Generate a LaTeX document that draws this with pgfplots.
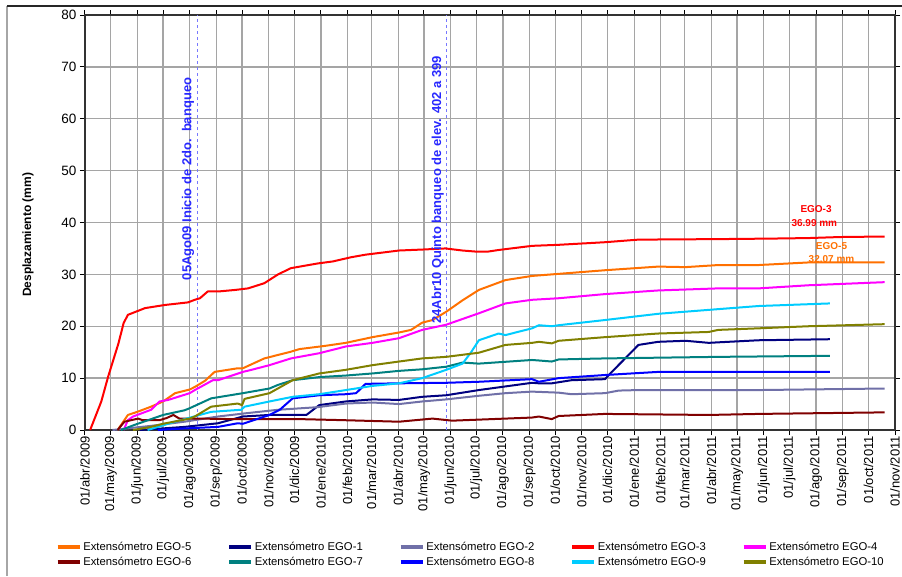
\documentclass[border=0pt]{standalone}
\usepackage{pgfplots}
\pgfplotsset{compat=1.18}
\usepackage{fontspec}
\setmainfont{Liberation Sans}

\definecolor{ego5}{RGB}{255,112,0}
\definecolor{ego1}{RGB}{0,0,128}
\definecolor{ego2}{RGB}{112,112,168}
\definecolor{ego3}{RGB}{255,0,0}
\definecolor{ego4}{RGB}{255,0,255}
\definecolor{ego6}{RGB}{128,0,0}
\definecolor{ego7}{RGB}{0,128,128}
\definecolor{ego8}{RGB}{0,0,255}
\definecolor{ego9}{RGB}{0,204,255}
\definecolor{ego10}{RGB}{128,128,0}
\definecolor{gridc}{RGB}{165,165,165}
\definecolor{notec}{RGB}{40,40,255}
\definecolor{linec}{RGB}{120,120,255}

\begin{document}
\begin{tikzpicture}
% page = 902 x 576, axis box lower-left at (0,0)
\useasboundingbox (-85pt,-146pt) rectangle (817pt,430pt);
\draw[gray!70, line width=1.5pt] (-78pt,-146pt) -- (-78pt,424pt);
\draw[black!85, line width=1.2pt] (-78pt,424pt) -- (817pt,424pt);
\begin{axis}[
    scale only axis,
    width=810pt, height=415pt,
    xmin=0, xmax=944, ymin=0, ymax=80,
    xtick={0,30,61,91,122,153,183,214,244,275,306,334,365,395,426,456,487,518,548,579,609,640,671,699,730,760,791,821,852,883,913,944},
    xticklabels={01/abr/2009,01/may/2009,01/jun/2009,01/jul/2009,01/ago/2009,01/sep/2009,01/oct/2009,01/nov/2009,01/dic/2009,01/ene/2010,01/feb/2010,01/mar/2010,01/abr/2010,01/may/2010,01/jun/2010,01/jul/2010,01/ago/2010,01/sep/2010,01/oct/2010,01/nov/2010,01/dic/2010,01/ene/2011,01/feb/2011,01/mar/2011,01/abr/2011,01/may/2011,01/jun/2011,01/jul/2011,01/ago/2011,01/sep/2011,01/oct/2011,01/nov/2011},
    ytick={0,10,...,80},
    x tick label style={rotate=90, anchor=east, font=\fontsize{13}{14}\selectfont, inner sep=1pt},
    y tick label style={font=\fontsize{13.5}{14}\selectfont, /pgf/number format/assume math mode=true},
    tick align=outside,
    major tick length=5pt,
    tick style={black, line width=1pt},
    xmajorgrids, ymajorgrids,
    grid style={gridc, line width=1.3pt},
    axis line style={black!80, line width=1.4pt},
    ylabel={\textbf{Desplazamiento (mm)}},
    ylabel style={font=\fontsize{12}{13}\selectfont, at={(axis description cs:-0.059,0.47)}},
    legend columns=5,
    legend style={draw=none, fill=none, at={(-0.04,-0.26)}, anchor=north west,
        font=\fontsize{11.3}{13}\selectfont, row sep=1pt,
        /tikz/every even column/.append style={column sep=34pt}},
    legend cell align=left,
    legend image code/.code={\draw[line width=3.5pt] (0pt,0pt) -- (22pt,0pt);},
    every axis plot/.append style={line width=2pt, line join=round},
    clip=false,
]
\draw[dashed, color=linec, line width=0.9pt] (axis cs:131,0) -- (axis cs:131,80);
\draw[dashed, color=linec, line width=0.9pt] (axis cs:421,0) -- (axis cs:421,80);

\addplot[ego5] coordinates {(38,0) (50,2.9) (61,3.5) (77,4.5) (91,5.5) (105,7.1) (122,7.8) (128,8.3) (140,9.5) (151,11.2) (178,11.9) (184,11.9) (209,13.8) (240,15.1) (250,15.6) (279,16.2) (304,16.8) (335,17.9) (366,18.8) (380,19.3) (393,20.7) (405,21.2) (421,22.8) (440,25) (459,27) (490,28.9) (521,29.7) (552,30.1) (606,30.8) (668,31.5) (700,31.4) (738,31.8) (785,31.8) (843,32.3) (932,32.3)};
\addlegendentry{Extensómetro EGO-5}
\addplot[ego1] coordinates {(64,0) (116,0.6) (155,1.3) (184,2.6) (215,2.9) (258,2.9) (273,4.8) (304,5.5) (335,5.9) (366,5.8) (393,6.4) (421,6.7) (459,7.7) (490,8.4) (521,9.1) (529,9) (544,9) (567,9.6) (606,9.8) (614,11.2) (645,16.4) (668,17) (700,17.2) (727,16.8) (738,16.9) (785,17.3) (868,17.5)};
\addlegendentry{Extensómetro EGO-1}
\addplot[ego2] coordinates {(32,0) (77,0.8) (116,1.6) (155,2.6) (186,3.2) (225,3.9) (271,4.4) (304,5.1) (335,5.3) (366,5) (393,5.5) (421,5.9) (459,6.6) (490,7.1) (521,7.4) (552,7.2) (567,6.9) (606,7.1) (622,7.6) (645,7.7) (785,7.7) (932,8)};
\addlegendentry{Extensómetro EGO-2}
\addplot[ego3] coordinates {(6,0) (19,5.5) (27,10.3) (39,16.7) (45,20.6) (50,22.2) (70,23.5) (93,24.1) (120,24.6) (128,25.1) (134,25.4) (143,26.7) (155,26.7) (175,27) (190,27.3) (209,28.3) (225,30) (240,31.2) (271,32.1) (289,32.5) (310,33.3) (327,33.8) (366,34.6) (395,34.8) (420,35) (440,34.6) (455,34.4) (470,34.4) (482,34.7) (521,35.5) (552,35.7) (606,36.2) (645,36.7) (738,36.8) (800,36.9) (843,37.0) (880,37.2) (932,37.3)};
\addlegendentry{Extensómetro EGO-3}
\addplot[ego4] coordinates {(45,0) (50,1.9) (56,2.6) (77,3.9) (87,5.5) (97,5.8) (122,7.1) (128,7.7) (149,9.6) (155,9.6) (184,11.2) (194,11.6) (215,12.5) (240,13.8) (273,14.8) (304,16.1) (335,16.8) (366,17.7) (393,19.3) (421,20.3) (459,22.5) (490,24.4) (521,25.1) (552,25.4) (606,26.2) (668,26.9) (738,27.3) (785,27.3) (843,27.9) (932,28.5)};
\addlegendentry{Extensómetro EGO-4}
\addplot[ego6] coordinates {(38,0) (46,1.6) (62,2.2) (67,1.9) (87,1.9) (95,2.3) (103,2.9) (110,2.2) (134,2.2) (172,2.1) (250,2.1) (300,1.9) (366,1.6) (405,2.2) (428,1.8) (521,2.4) (529,2.6) (544,2.1) (552,2.7) (606,3.1) (727,2.9) (785,3.1) (932,3.4)};
\addlegendentry{Extensómetro EGO-6}
\addplot[ego7] coordinates {(42,0) (58,1) (91,2.9) (116,3.8) (122,4.2) (147,6.1) (184,7.1) (215,8) (225,8.7) (242,9.6) (273,10.2) (304,10.5) (335,10.9) (366,11.4) (393,11.7) (421,12.2) (440,13) (459,12.8) (521,13.5) (529,13.4) (544,13.2) (552,13.6) (606,13.8) (738,14.1) (868,14.3)};
\addlegendentry{Extensómetro EGO-7}
\addplot[ego8] coordinates {(85,0) (116,0.3) (155,0.6) (178,1.3) (184,1.2) (215,2.9) (227,3.9) (242,6.1) (273,6.7) (304,6.9) (316,7.1) (327,8.9) (366,9) (421,9.1) (459,9.3) (521,9.8) (529,9.3) (552,10) (606,10.6) (668,11.2) (868,11.2)};
\addlegendentry{Extensómetro EGO-8}
\addplot[ego9] coordinates {(73,0) (105,1.6) (147,3.5) (182,3.9) (186,4.5) (215,5.5) (242,6.4) (273,6.9) (304,7.7) (335,8.5) (366,9) (393,10) (421,11.6) (440,12.8) (450,15) (459,17.3) (482,18.6) (490,18.3) (521,19.6) (529,20.2) (544,20) (552,20.2) (606,21.2) (668,22.4) (738,23.3) (785,23.9) (868,24.4)};
\addlegendentry{Extensómetro EGO-9}
\addplot[ego10] coordinates {(56,0) (77,0.6) (91,1.2) (122,2.2) (128,2.6) (147,4.5) (178,5.1) (183,4.8) (186,6) (215,7.1) (242,9.6) (273,10.9) (304,11.6) (335,12.5) (366,13.2) (393,13.8) (421,14.1) (459,14.9) (490,16.4) (521,16.8) (529,17) (544,16.7) (552,17.2) (606,17.9) (668,18.6) (727,18.9) (738,19.3) (785,19.6) (843,20) (932,20.4)};
\addlegendentry{Extensómetro EGO-10}

\node[rotate=90, text=notec, font=\bfseries\fontsize{13}{14}\selectfont] at (axis cs:120,48.4) {05Ago09 Inicio de 2do.\ \ banqueo};
\node[rotate=90, text=notec, font=\bfseries\fontsize{13}{14}\selectfont] at (axis cs:411,46.3) {24Abr10 Quinto banqueo de elev. 402 a 399};
\node[text=ego3, font=\bfseries\fontsize{10}{11}\selectfont] at (axis cs:852,42.6) {EGO-3};
\node[text=ego3, font=\bfseries\fontsize{10}{11}\selectfont] at (axis cs:850,39.9) {36.99 mm};
\node[text=ego5, font=\bfseries\fontsize{10}{11}\selectfont] at (axis cs:870,35.5) {EGO-5};
\node[text=ego5, font=\bfseries\fontsize{10}{11}\selectfont] at (axis cs:870,33) {32.07 mm};
\end{axis}
\end{tikzpicture}
\end{document}
